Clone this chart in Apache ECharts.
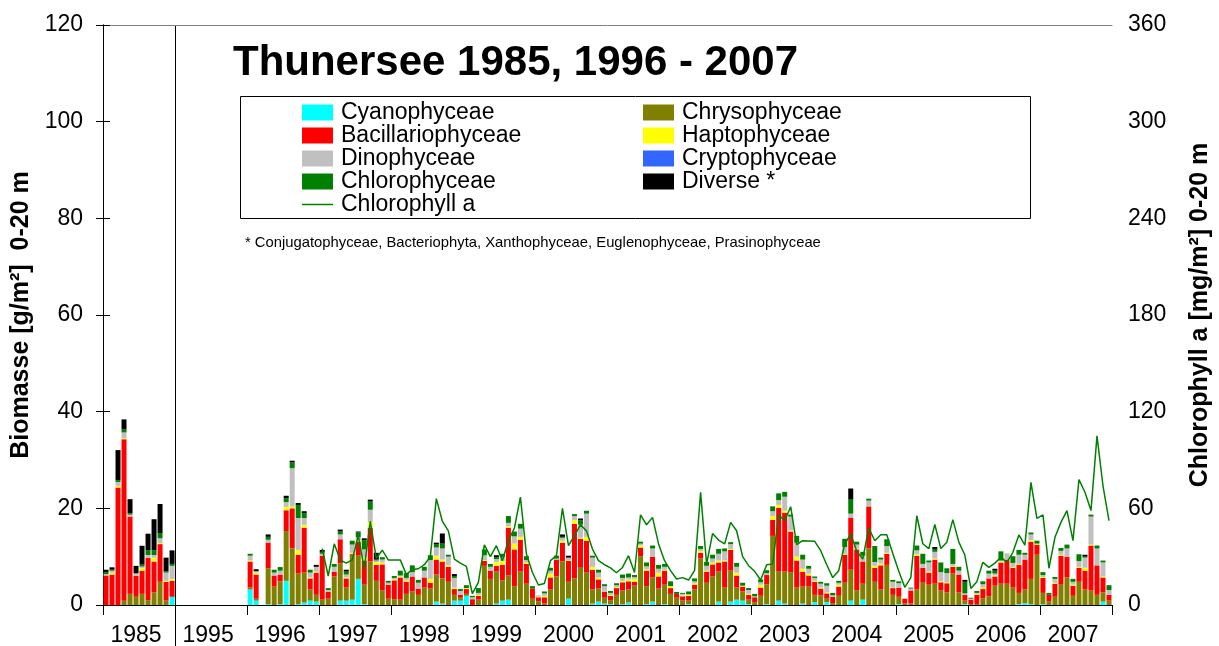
<!DOCTYPE html>
<html>
<head>
<meta charset="utf-8">
<script src="https://cdn.jsdelivr.net/npm/echarts@6/dist/echarts.min.js"></script>
<style>
  html, body { margin: 0; padding: 0; background: #fff; }
  #main { width: 1219px; height: 646px; }
</style>
</head>
<body>
<div id="main"></div>
<script>
// sampling slots: 12 per year group, 1995 is an empty group
var years = ['1985', '1995', '1996', '1997', '1998', '1999', '2000', '2001', '2002', '2003', '2004', '2005', '2006', '2007'];
var months = ['01', '02', '03', '04', '05', '06', '07', '08', '09', '10', '11', '12'];

// biomass g/m2, one row per year group
var cyano = [
    0, 0, 0, 0, 0, 0, 0, 0, 0, 0, 0, 1.7,
    null, null, null, null, null, null, null, null, null, null, null, null,
    3.2, 0.9, null, 0.2, 0, 0.2, 5.0, 0, 0.2, 0.5, 0.9, 0.7,
    0, 0, 0, 0.9, 0.9, 1.1, 5.4, 0.2, 0, 0, 0, 0,
    0, 0, 0, 0, 0, 0, 0, 0.7, 0.3, 0, 0.9, 0.9,
    1.9, 0, 0, 0, 0, 0.3, 0.9, 1.1, 0, 0, 0, 0,
    0, 0, 0, 0, 0, 1.3, 0, 0, 0, 0.3, 0.7, 0.3,
    0.2, 0, 0.2, 0.5, 0, 0, 0.2, 0.7, 0, 0.2, 0, 0,
    0, 0.2, 0, 0, 0, 0, 0.7, 0, 0.7, 1.1, 0.9, 0.2,
    0, 0, 0.2, 0, 0.9, 0.3, 0, 0, 0.3, 0, 0.6, 0,
    0.6, 0, 0, 0, 0.9, 0, 1.1, 0, 0, 0, 0, 0,
    0.2, 0, 0, 0, 0, 0, 0, 0, 0, 0, 0, 0.2,
    0, 0, 0, 0, 0, 0, 0, 0, 0.2, 0.4, 0.2, 0,
    0.2, 0, 0, 0, 0, 0, 0, 0, 0, 0, 0.7, 0
];
var chryso = [
    0, 0, 0, 0.9, 2.3, 1.7, 2.3, 1.0, 2.6, 4.8, 0.9, 0,
    null, null, null, null, null, null, null, null, null, null, null, null,
    0.4, 0.4, null, 7.4, 3.8, 4.7, 10.3, 11.7, 6.3, 6.2, 2.3, 1.4,
    1.1, 1.3, 5.9, 7.7, 2.7, 9.3, 4.8, 4.0, 9.0, 5.0, 3.0, 1.3,
    1.2, 1.1, 2.3, 2.8, 2.1, 3.6, 3.4, 5.6, 5.2, 4.8, 1.2, 0.6,
    0.4, 0, 1.1, 8.1, 5.4, 6.6, 4.2, 5.0, 3.9, 6.9, 4.4, 1.3,
    0.8, 0.3, 3.2, 5.9, 9.0, 3.5, 5.5, 7.7, 6.7, 2.9, 2.7, 1.2,
    0.7, 2.1, 2.8, 2.7, 4.0, 10.1, 3.7, 5.0, 3.4, 4.0, 2.3, 1.5,
    0.9, 0.7, 3.2, 9.6, 4.6, 5.9, 6.2, 3.6, 6.4, 2.5, 1.9, 0.9,
    0.6, 1.9, 4.1, 14.3, 6.0, 6.6, 6.7, 3.6, 3.5, 3.8, 1.5, 2.0,
    0.7, 0.4, 1.9, 4.6, 6.4, 3.0, 3.3, 11.7, 4.8, 3.2, 8.3, 2.1,
    1.5, 0.3, 0.3, 3.2, 4.6, 4.2, 4.4, 3.0, 2.6, 6.5, 2.6, 0.7,
    0.2, 0.2, 1.4, 1.8, 4.0, 4.4, 4.4, 3.6, 2.3, 2.8, 5.2, 10.4,
    2.3, 0.8, 1.7, 4.2, 5.7, 1.9, 4.8, 3.2, 3.0, 2.1, 1.9, 0.9
];
var bacillario = [
    6.1, 6.3, 24.3, 33.4, 16.0, 4.3, 4.8, 8.8, 6.4, 7.8, 3.9, 3.3,
    null, null, null, null, null, null, null, null, null, null, null, null,
    5.4, 5.0, null, 5.3, 2.3, 1.4, 4.3, 8.3, 3.9, 9.3, 2.3, 4.6,
    9.1, 1.4, 1.0, 5.0, 1.9, 0.2, 2.9, 5.0, 7.0, 3.3, 5.4, 2.9,
    3.9, 4.6, 2.5, 3.1, 1.3, 2.1, 1.2, 3.1, 3.5, 3.1, 1.2, 0.6,
    1.0, 1.2, 0.8, 1.0, 1.7, 1.2, 3.2, 9.9, 7.6, 6.6, 4.1, 2.1,
    0.8, 1.3, 2.5, 3.5, 3.9, 4.3, 11.3, 6.0, 6.6, 4.1, 1.9, 1.2,
    1.0, 1.4, 1.7, 1.7, 0.8, 1.8, 3.2, 4.3, 2.5, 2.9, 1.2, 0.8,
    0.9, 1.0, 1.0, 1.2, 2.3, 2.5, 1.9, 5.4, 4.3, 2.5, 1.0, 1.0,
    1.0, 1.7, 1.9, 3.3, 13.2, 12.2, 8.5, 5.6, 3.1, 2.3, 2.7, 1.4,
    1.1, 1.3, 1.9, 5.8, 10.8, 8.5, 4.6, 8.7, 2.9, 5.0, 2.3, 1.4,
    1.9, 1.0, 2.7, 7.0, 3.1, 2.5, 5.0, 1.7, 1.9, 1.4, 3.7, 1.2,
    0.9, 1.9, 1.9, 3.7, 1.9, 4.4, 5.0, 4.1, 5.8, 6.2, 7.7, 2.1,
    3.1, 1.3, 2.7, 6.0, 4.3, 2.1, 2.9, 3.9, 9.3, 6.1, 3.1, 1.2
];
var hapto = [
    0, 0.4, 0.35, 0.2, 0, 0, 0.55, 0, 0.8, 0.2, 0.2, 0.4,
    null, null, null, null, null, null, null, null, null, null, null, null,
    0.2, 0.4, null, 0, 0, 0, 0.7, 0.4, 1.0, 0.6, 0.2, 0.2,
    0, 0, 0, 0, 0.2, 0.2, 0.3, 0.6, 1.2, 0.6, 0.4, 0,
    0.2, 0.2, 0.3, 0, 0, 0, 0.8, 0.8, 0.4, 0.3, 0.3, 0,
    0.2, 0, 0.2, 0.2, 0, 0.8, 0.8, 0.3, 1.2, 0.6, 0.3, 0,
    0.1, 0.3, 0.8, 0, 0.4, 0.2, 0.8, 0.2, 0.8, 0.6, 0.4, 0,
    0.2, 0.2, 0.3, 0.4, 0.6, 0.4, 0.3, 0, 0.8, 0.2, 0.4, 0,
    0.2, 0.3, 0.3, 0.4, 0.2, 0.4, 0.4, 0.2, 0.2, 0.6, 0.2, 0.2,
    0, 0.6, 0, 0.8, 0.6, 0.4, 0.2, 0.8, 0.6, 0.4, 0.2, 0.2,
    0.2, 0, 0.4, 0.2, 0, 0.2, 0, 0, 0.4, 0.4, 0.2, 0.1,
    0, 0, 0, 0.3, 0, 0.2, 0.2, 0.2, 0.2, 0.2, 0, 0,
    0, 0.2, 0.4, 0, 0.2, 0.2, 0, 0.2, 0.2, 0, 0.3, 0.2,
    0.2, 0, 0.2, 0.2, 0, 0.2, 0.2, 0.6, 0.2, 0, 0.2, 0
];
var dino = [
    0.3, 0.4, 0.8, 1.2, 0.4, 0.5, 0.3, 0.55, 0.55, 1.0, 1.7, 2.7,
    null, null, null, null, null, null, null, null, null, null, null, null,
    1.0, 0.3, null, 0.6, 0.6, 0.8, 1.0, 7.9, 6.6, 1.4, 1.0, 1.0,
    0.4, 0.4, 1.0, 1.0, 0.6, 1.7, 0.6, 1.7, 2.5, 0.3, 0.6, 0.4,
    0.3, 0.2, 0.5, 0.9, 1.2, 1.4, 3.9, 1.7, 2.3, 1.8, 2.0, 0.8,
    0, 0.4, 0.4, 1.0, 0.8, 0.6, 0.8, 0.7, 1.5, 1.7, 0.5, 0,
    0.3, 0.5, 0.6, 0.2, 0.6, 0.5, 0.8, 2.7, 4.8, 1.9, 1.0, 1.2,
    0.4, 0.4, 0.6, 0.4, 0.4, 0.4, 0.6, 1.7, 0.8, 0.6, 0, 0,
    0.3, 0, 0.4, 0.4, 1.0, 0.8, 1.4, 1.9, 1.0, 1.2, 0, 0.8,
    0.2, 0.5, 0.4, 1.0, 1.0, 2.9, 2.9, 2.9, 1.9, 1.0, 0.6, 0.8,
    1.4, 0.3, 0.4, 1.4, 0.8, 0.8, 1.2, 1.2, 0.8, 0.8, 1.4, 1.2,
    0.9, 0, 0.4, 0.8, 0.8, 1.9, 1.4, 1.9, 1.9, 0.4, 0.8, 0.3,
    0.2, 0.2, 0.6, 1.0, 0.4, 0.2, 1.3, 0.8, 1.9, 1.0, 1.2, 0,
    0.4, 0, 0.8, 0.8, 1.7, 0.6, 1.2, 2.1, 5.8, 3.5, 2.9, 1.0
];
var crypto = [
    0.8, 2.2, 2.5, 1.0, 3.8, 1.8, 2.6, 2.1, 4.3, 2.1, 1.4, 1.5,
    null, null, null, null, null, null, null, null, null, null, null, null,
    1.2, 1.0, null, 0.6, 0.35, 0.9, 0.3, 1.4, 1.0, 0.4, 1.2, 1.2,
    1.2, 1.4, 1.4, 1.0, 1.4, 1.0, 1.9, 1.7, 1.2, 1.1, 0.6, 1.0,
    0.5, 0.6, 0, 0, 0.6, 0, 0.4, 0.6, 1.0, 0.8, 1.0, 1.0,
    0.6, 0.7, 0, 0.8, 0.9, 0.6, 1.3, 0.6, 0.2, 0.8, 0.9, 0.9,
    0.8, 1.0, 1.7, 3.3, 1.2, 1.6, 1.2, 0.8, 0.6, 1.4, 0.6, 0.6,
    0.8, 0.6, 0.3, 1.0, 1.0, 0.8, 1.0, 0.6, 0.6, 0.8, 1.0, 1.0,
    0.5, 0.9, 0.8, 1.0, 0.9, 1.4, 1.4, 0.8, 1.0, 1.0, 2.1, 0.5,
    0.6, 0.8, 1.0, 0.8, 0.6, 1.4, 0.8, 0.6, 0.8, 0.6, 0.8, 0.9,
    0.7, 0.7, 0.8, 0.8, 0.6, 1.4, 1.4, 1.7, 0.8, 0.8, 0.8, 0.7,
    0.3, 0.9, 0.4, 0.8, 1.4, 0.6, 0.8, 0.4, 1.0, 2.9, 1.7, 0.9,
    0.5, 0.8, 1.0, 0.6, 0.4, 1.9, 1.4, 0.6, 0.6, 1.0, 1.2, 0.6,
    1.0, 0.6, 0.5, 0.6, 1.9, 0.7, 1.4, 1.2, 1.0, 0.8, 0.6, 0.8
];
var chloro = [
    0.4, 0.2, 0.4, 0.6, 0.3, 0.1, 0.4, 1.0, 1.0, 1.1, 0.3, 0.4,
    null, null, null, null, null, null, null, null, null, null, null, null,
    0.4, 0, null, 0.6, 0.6, 0.75, 0.8, 1.2, 2.7, 1.0, 0.6, 0,
    0.4, 0.4, 0.6, 0.6, 0.6, 0.8, 1.0, 1.9, 1.7, 0.2, 0.5, 0.4,
    0.4, 1.0, 1.0, 1.4, 0.6, 0.8, 1.0, 0.6, 1.0, 0.4, 0.4, 0.4,
    0.6, 0.3, 1.0, 1.2, 0.6, 0.4, 0.7, 1.4, 1.0, 1.0, 0.8, 0.5,
    0, 0.4, 0.6, 0.6, 0.2, 0, 0.4, 0.9, 0.6, 0.4, 0.6, 0.4,
    0.4, 0.4, 0.7, 0.8, 0.4, 0.4, 0.8, 0.6, 0.8, 0.6, 1.0, 0.4,
    0.2, 0.6, 0.6, 0.6, 0.8, 0.8, 1.0, 0.6, 0.4, 0.8, 0.6, 0.4,
    0.5, 0.6, 0.6, 1.0, 1.4, 1.0, 0.4, 1.4, 1.0, 0.6, 0.3, 0.4,
    0.5, 0.5, 0.4, 1.7, 2.9, 0.6, 0.8, 0.4, 3.3, 0.4, 1.4, 0.4,
    0.4, 0, 0.2, 1.0, 2.1, 0.4, 0.6, 2.0, 1.0, 3.1, 0.8, 2.4,
    0.2, 0.4, 0.6, 0.6, 0.6, 1.9, 0, 1.4, 1.0, 0.4, 0.4, 0.6,
    0.6, 0.4, 0.4, 0.6, 0.8, 0.6, 1.4, 0.2, 0.4, 0.6, 0.4, 1.0
];
var diverse = [
    0.5, 0.5, 6.2, 2.1, 2.9, 1.5, 3.9, 3.4, 6.4, 6.0, 2.8, 2.8,
    null, null, null, null, null, null, null, null, null, null, null, null,
    0, 0.4, null, 0.5, 0, 0, 0.5, 0.35, 0.4, 0.4, 0, 0.4,
    0.4, 0, 0, 0.4, 0.4, 0, 0.2, 0.4, 0.4, 1.4, 0, 0,
    0, 0, 0, 0, 0, 0, 0, 0.4, 2.1, 0, 0.4, 0,
    0, 0, 0, 0, 0, 0.4, 0, 0, 0, 0, 0, 0,
    0, 0, 0, 0, 0.5, 0.4, 0, 0.4, 0, 0, 0, 0,
    0, 0, 0, 0, 0, 0, 0, 0, 0, 0, 0, 0,
    0, 0, 0, 0, 0, 0, 0, 0, 0, 0, 0, 0,
    0, 0, 0, 0, 0, 0, 0, 0, 0, 0, 0, 0,
    0, 0, 0, 0, 2.3, 0, 0, 0, 0, 0, 0, 0,
    0, 0, 0, 0, 0, 0, 0.4, 0, 0, 0, 0, 0.4,
    0, 0, 0, 0, 0.4, 0, 0, 0, 0, 0, 0, 0,
    0, 0, 0, 0, 0, 0, 0, 0.4, 0, 0, 0, 0
];
// chlorophyll a mg/m2 (right axis)
var chla = [
    null, null, null, null, null, null, null, null, null, null, null, null,
    null, null, null, null, null, null, null, null, null, null, null, null,
    null, null, null, null, null, null, null, null, null, null, null, null,
    35, 18, 38, 28, 26, 28, 43, 22.5, 52, 29, 34, 28,
    28, 28, 19, 22, 22.5, 25, 30, 66, 52, 46, 28.5, 26,
    24, 7, 14, 37.4, 30, 36.8, 27.5, 40, 47.8, 67, 31.6, 20.2,
    12.4, 13.4, 27.5, 30.6, 60, 36.8, 43, 49.8, 46, 34.7, 27.5, 25,
    23, 20, 23.3, 30.6, 20.2, 56, 49.8, 54.4, 37.9, 27.5, 21.3, 16.1,
    17, 15.5, 21.5, 69.9, 25.4, 44.4, 40.3, 37.9, 51.3, 46.1, 30, 24.4,
    20.9, 15.5, 25, 25.4, 56, 52.3, 61, 37.4, 39.9, 39.7, 39.5, 33.7,
    25, 17, 21.3, 37.9, 44, 33.3, 28.5, 47.8, 39.9, 43.6, 43.6, 32,
    21, 11, 17, 55.4, 38, 35, 50, 35, 39, 53, 39, 31,
    10.3, 14.5, 26.5, 23.4, 26, 29.6, 26.5, 32.7, 43.5, 37.2, 76.1, 53.8,
    55.9, 22.8, 42, 51.3, 58.6, 40, 77.8, 70, 58.6, 105, 74, 52.3
];

var slots = [];
years.forEach(function (y) {
    months.forEach(function (m) { slots.push(y + '-' + m); });
});
var nSlots = slots.length;

var font = 'Liberation Sans, Arial, sans-serif';

var groups = [
    { name: 'Cyanophyceae', data: cyano, color: '#00FFFF' },
    { name: 'Chrysophyceae', data: chryso, color: '#808000' },
    { name: 'Bacillariophyceae', data: bacillario, color: '#FF0000' },
    { name: 'Haptophyceae', data: hapto, color: '#FFFF00' },
    { name: 'Dinophyceae', data: dino, color: '#C0C0C0' },
    { name: 'Cryptophyceae', data: crypto, color: '#3366FF' },
    { name: 'Chlorophyceae', data: chloro, color: '#008000' },
    { name: 'Diverse *', data: diverse, color: '#000000' }
];

var series = groups.map(function (g) {
    return {
        name: g.name,
        type: 'bar',
        stack: 'biomasse',
        barWidth: 5,
        data: g.data,
        itemStyle: { color: g.color },
        emphasis: { disabled: true }
    };
});
series.push({
    name: 'Chlorophyll a',
    type: 'line',
    yAxisIndex: 1,
    data: chla,
    symbol: 'none',
    z: 5,
    lineStyle: { color: '#008000', width: 1.5 },
    itemStyle: { color: '#008000' }
});

var legendText = { fontSize: 23, color: '#000', fontFamily: font, lineHeight: 23, padding: [0, 0, 0, 3] };
var lineIcon = 'path://M0,0 L31,0 L31,1.5 L0,1.5 Z';

var option = {
    animation: false,
    backgroundColor: '#fff',
    title: [
        {
            text: 'Thunersee 1985, 1996 - 2007',
            left: 233, top: 42, padding: 0,
            textStyle: { fontSize: 42, fontWeight: 'bold', color: '#000', fontFamily: font }
        },
        {
            text: '* Conjugatophyceae, Bacteriophyta, Xanthophyceae, Euglenophyceae, Prasinophyceae',
            left: 245, top: 235, padding: 0,
            textStyle: { fontSize: 14.8, fontWeight: 'normal', color: '#000', fontFamily: font }
        }
    ],
    graphic: [{
        type: 'rect', left: 240, top: 96, z: 0,
        shape: { width: 790, height: 122 },
        style: { fill: '#fff', stroke: '#000', lineWidth: 1 }
    }],
    legend: [
        {
            orient: 'vertical', left: 302, top: 101, padding: 0,
            itemWidth: 31, itemHeight: 16, itemGap: 0, selectedMode: false,
            textStyle: legendText,
            data: [
                { name: 'Cyanophyceae', icon: 'rect' },
                { name: 'Bacillariophyceae', icon: 'rect' },
                { name: 'Dinophyceae', icon: 'rect' },
                { name: 'Chlorophyceae', icon: 'rect' },
                { name: 'Chlorophyll a', icon: lineIcon }
            ]
        },
        {
            orient: 'vertical', left: 643, top: 101, padding: 0,
            itemWidth: 31, itemHeight: 16, itemGap: 0, selectedMode: false,
            textStyle: legendText,
            data: [
                { name: 'Chrysophyceae', icon: 'rect' },
                { name: 'Haptophyceae', icon: 'rect' },
                { name: 'Cryptophyceae', icon: 'rect' },
                { name: 'Diverse *', icon: 'rect' }
            ]
        }
    ],
    grid: {
        left: 103, right: 107, top: 25, bottom: 41,
        outerBoundsMode: 'none',
        show: false
    },
    xAxis: [
        {
            type: 'category',
            data: slots,
            axisLine: { lineStyle: { color: '#000', width: 1 } },
            axisTick: { show: false },
            axisLabel: {
                interval: function (i) { return i % 12 === 5; },
                formatter: function (v) { return v.slice(0, 4); },
                fontSize: 23, color: '#000', fontFamily: font, margin: 19
            },
            splitLine: { show: false }
        },
        {
            // year boundary ticks
            type: 'value', min: 0, max: nSlots, interval: 12,
            position: 'bottom',
            axisLine: { show: false },
            axisLabel: { show: false },
            axisTick: { show: true, length: 10, lineStyle: { color: '#000' } },
            splitLine: { show: false }
        },
        {
            // separator between 1985 and the later series
            type: 'value', min: 0, max: nSlots,
            position: 'bottom',
            axisLine: { show: false },
            axisLabel: { show: false },
            axisTick: { show: true, customValues: [12], length: 41, lineStyle: { color: '#000' } },
            splitLine: { show: true, lineStyle: { color: '#000', width: 1 } }
        },
        {
            // top frame line
            type: 'value', min: 0, max: nSlots,
            position: 'top',
            axisLine: { show: true, lineStyle: { color: '#808080', width: 1 } },
            axisLabel: { show: false },
            axisTick: { show: false },
            splitLine: { show: false }
        }
    ],
    yAxis: [
        {
            type: 'value', min: 0, max: 120, interval: 20,
            position: 'left',
            name: 'Biomasse [g/m²]  0-20 m',
            nameLocation: 'middle', nameRotate: 90, nameGap: 68,
            nameTextStyle: { fontSize: 25, fontWeight: 'bold', color: '#000', fontFamily: font },
            axisLine: { show: true, lineStyle: { color: '#000' } },
            axisTick: { show: true, length: 7, lineStyle: { color: '#000' } },
            axisLabel: { fontSize: 23, color: '#000', fontFamily: font, margin: 20 },
            splitLine: { show: false }
        },
        {
            type: 'value', min: 0, max: 360, interval: 60,
            position: 'right',
            name: 'Chlorophyll a [mg/m²] 0-20 m',
            nameLocation: 'middle', nameRotate: 90, nameGap: 76,
            nameTextStyle: { fontSize: 25, fontWeight: 'bold', color: '#000', fontFamily: font },
            axisLine: { show: true, lineStyle: { color: '#000' } },
            axisTick: { show: true, length: 7, lineStyle: { color: '#000' } },
            axisLabel: { fontSize: 23, color: '#000', fontFamily: font, margin: 16 },
            splitLine: { show: false }
        }
    ],
    series: series
};

var chart = echarts.init(document.getElementById('main'));
chart.setOption(option);
window.addEventListener('resize', function () {
    chart.resize();
});
</script>
</body>
</html>
